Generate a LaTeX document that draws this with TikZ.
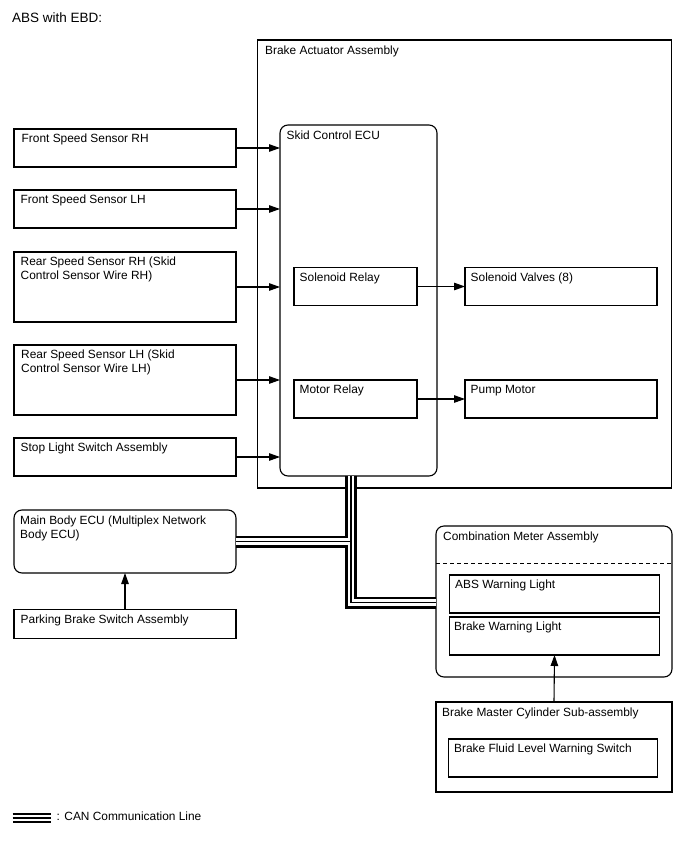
\documentclass[tikz,border=0pt]{standalone}
\usepackage{fontspec}
\setmainfont{Liberation Sans}
\usetikzlibrary{arrows.meta}
\tikzset{
  box/.style={draw=black, line width=1.1pt, anchor=north west, inner sep=0pt, outer sep=0pt},
  rbox/.style={box, rounded corners=8pt},
  lbl/.style={anchor=north west, inner sep=0pt, align=left, font=\fontsize{11.9}{13.5}\selectfont},
  arr/.style={line width=1.1pt, -{Triangle[length=11pt,width=7.5pt]}},
}
\begin{document}
\begin{tikzpicture}[x=1pt,y=-1pt]
\useasboundingbox (0,0) rectangle (688,852);

% title
\node[lbl, font=\fontsize{13.5}{15}\selectfont] (title) at (12,12.5) {ABS with EBD:};

% boxes
\node[box, minimum width=414pt, minimum height=448pt] (act) at (257.5,40) {};
\node[rbox, minimum width=157pt, minimum height=351pt] (ecu) at (280,125) {};
\node[box, minimum width=222pt, minimum height=38pt] (frs) at (14,129) {};
\node[box, minimum width=222pt, minimum height=38pt] (fls) at (14,190) {};
\node[box, minimum width=222pt, minimum height=70pt] (rrs) at (14,252) {};
\node[box, minimum width=222pt, minimum height=70pt] (rls) at (14,345) {};
\node[box, minimum width=222pt, minimum height=38pt] (sls) at (14,438) {};
\node[box, minimum width=123pt, minimum height=38pt] (srel) at (294,267.5) {};
\node[box, minimum width=192pt, minimum height=38pt] (sval) at (465,267.5) {};
\node[box, minimum width=123pt, minimum height=38pt] (mrel) at (294,380) {};
\node[box, minimum width=192pt, minimum height=38pt] (pump) at (465,380) {};
\node[rbox, minimum width=222pt, minimum height=63pt] (mbe) at (14,510) {};
\node[box, minimum width=222pt, minimum height=29pt] (pbs) at (14,609.5) {};
\node[rbox, minimum width=236pt, minimum height=151pt] (cma) at (436,526) {};
\node[box, minimum width=210pt, minimum height=38pt] (abs) at (449.5,575) {};
\node[box, minimum width=210pt, minimum height=38pt] (bwl) at (449.5,617) {};
\node[box, minimum width=236pt, minimum height=90pt] (bmc) at (436,702) {};
\node[box, minimum width=209pt, minimum height=38pt] (bfl) at (448.5,739) {};

% dashed separator in combination meter
\coordinate (dashL) at (436,563.5);
\draw[dashed, line width=0.9pt, dash pattern=on 4pt off 3pt] (dashL) -- (dashL -| cma.east);

% labels
\node[lbl] (tact) at ([shift={(7.5,6)}]act.north west) {Brake Actuator Assembly};
\node[lbl] (tecu) at ([shift={(6.5,6)}]ecu.north west) {Skid Control ECU};
\node[lbl] (tfrs) at ([shift={(7.5,5)}]frs.north west) {Front Speed Sensor RH};
\node[lbl] (tfls) at ([shift={(6.5,5)}]fls.north west) {Front Speed Sensor LH};
\node[lbl] (trrs) at ([shift={(6.5,5)}]rrs.north west) {Rear Speed Sensor RH (Skid\\Control Sensor Wire RH)};
\node[lbl] (trls) at ([shift={(7,5)}]rls.north west) {Rear Speed Sensor LH (Skid\\Control Sensor Wire LH)};
\node[lbl] (tsls) at ([shift={(6.5,5)}]sls.north west) {Stop Light Switch Assembly};
\node[lbl] (tsrel) at ([shift={(5.5,5)}]srel.north west) {Solenoid Relay};
\node[lbl] (tsval) at ([shift={(5.5,5)}]sval.north west) {Solenoid Valves (8)};
\node[lbl] (tmrel) at ([shift={(5.5,5)}]mrel.north west) {Motor Relay};
\node[lbl] (tpump) at ([shift={(5.5,5)}]pump.north west) {Pump Motor};
\node[lbl] (tmbe) at ([shift={(6,6)}]mbe.north west) {Main Body ECU (Multiplex Network\\Body ECU)};
\node[lbl] (tpbs) at ([shift={(6.5,5)}]pbs.north west) {Parking Brake Switch Assembly};
\node[lbl] (tcma) at ([shift={(7,6)}]cma.north west) {Combination Meter Assembly};
\node[lbl] (tabs) at ([shift={(5.5,5)}]abs.north west) {ABS Warning Light};
\node[lbl] (tbwl) at ([shift={(4.5,5)}]bwl.north west) {Brake Warning Light};
\node[lbl] (tbmc) at ([shift={(6,6)}]bmc.north west) {Brake Master Cylinder Sub-assembly};
\node[lbl] (tbfl) at ([shift={(5.5,5)}]bfl.north west) {Brake Fluid Level Warning Switch};

% arrows
\draw[arr] (frs.east) -- (frs.east -| ecu.west);
\draw[arr] (fls.east) -- (fls.east -| ecu.west);
\draw[arr] (rrs.east) -- (rrs.east -| ecu.west);
\draw[arr] (rls.east) -- (rls.east -| ecu.west);
\draw[arr] (sls.east) -- (sls.east -| ecu.west);
\draw[arr] (srel.east) -- (sval.west);
\draw[arr] (mrel.east) -- (pump.west);
\draw[arr] (pbs.north) -- (mbe.south);
\draw[arr] (bmc.north) -- (bwl.south);

% CAN bus
\coordinate (canA) at (351,602.5);
\foreach \w/\c in {12/black, 6.5/white, 1.8/black} {
  \draw[line width=\w pt, \c] (ecu.south -| canA) -- (canA) -- (canA -| cma.west);
  \draw[line width=\w pt, \c] (mbe.east) -- (mbe.east -| canA);
}

% legend
\coordinate (legA) at (12.7,818);
\coordinate (legB) at (50.7,818);
\foreach \w/\c in {10/black, 5.5/white, 1.6/black} {
  \draw[line width=\w pt, \c] (legA) -- (legB);
}
\node[lbl] (tleg) at (56.5,812) {: CAN Communication Line};
\end{tikzpicture}
\end{document}
